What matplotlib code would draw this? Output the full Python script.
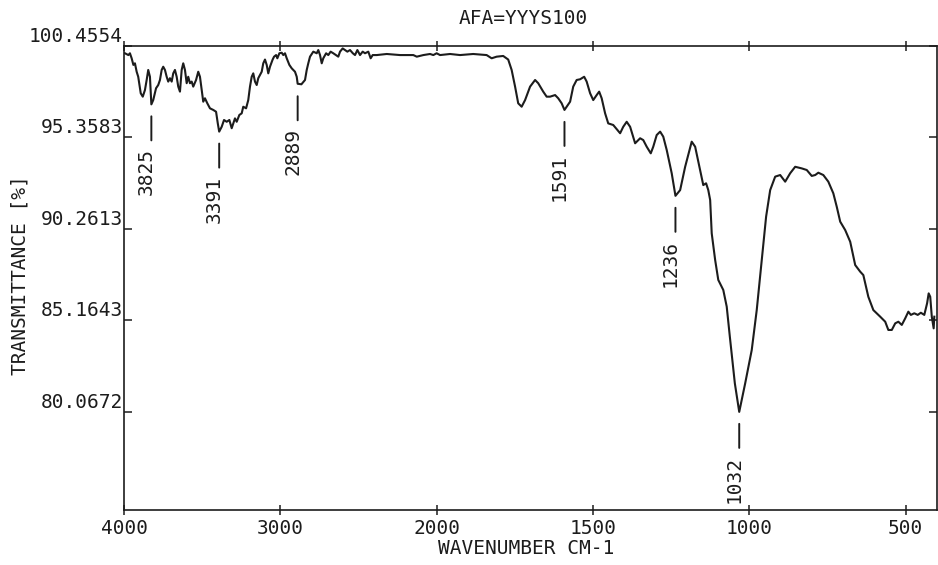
import numpy as np
import matplotlib
matplotlib.use("Agg")
import matplotlib.pyplot as plt

# IR spectrum (wavenumber in cm-1, transmittance in %)
wavenumber = [3994, 3972, 3962, 3951, 3940, 3930, 3919, 3909, 3893, 3880,
              3866, 3855, 3845, 3834, 3825, 3813, 3795, 3781, 3770, 3759,
              3749, 3738, 3727, 3717, 3706, 3695, 3685, 3674, 3663, 3653,
              3642, 3631, 3621, 3610, 3599, 3589, 3578, 3567, 3557, 3539,
              3525, 3514, 3503, 3493, 3482, 3467, 3450, 3429, 3411, 3400,
              3391, 3375, 3360, 3343, 3326, 3311, 3301, 3290, 3279, 3262,
              3247, 3237, 3219, 3205, 3194, 3183, 3173, 3162, 3151, 3141,
              3130, 3119, 3109, 3098, 3087, 3077, 3066, 3049, 3040, 3027,
              3019, 3006, 2991, 2981, 2970, 2959, 2942, 2927, 2906, 2895,
              2889, 2865, 2842, 2831, 2821, 2810, 2789, 2767, 2757, 2746,
              2735, 2725, 2707, 2693, 2678, 2661, 2644, 2629, 2618, 2601,
              2586, 2571, 2554, 2536, 2522, 2507, 2490, 2473, 2458, 2437,
              2422, 2409, 2383, 2319, 2234, 2149, 2127, 2085, 2042, 2021,
              2000, 1989, 1957, 1925, 1883, 1840, 1824, 1808, 1787, 1771,
              1760, 1749, 1739, 1728, 1717, 1701, 1685, 1675, 1659, 1648,
              1637, 1621, 1611, 1600, 1591, 1573, 1563, 1552, 1541, 1528,
              1520, 1509, 1499, 1488, 1480, 1472, 1461, 1451, 1435, 1413,
              1403, 1392, 1381, 1365, 1349, 1339, 1328, 1315, 1307, 1296,
              1285, 1275, 1264, 1248, 1236, 1221, 1205, 1184, 1173, 1157,
              1147, 1138, 1131, 1125, 1120, 1109, 1099, 1083, 1072, 1062,
              1046, 1032, 1013, 992, 976, 960, 946, 933, 917, 901,
              885, 869, 853, 832, 816, 800, 789, 779, 763, 747,
              731, 720, 709, 693, 677, 661, 645, 635, 619, 603,
              581, 565, 555, 544, 533, 523, 512, 501, 491, 483,
              472, 461, 451, 440, 431, 426, 421, 416, 410, 408]
transmittance = [100.05, 99.95, 100.05, 99.77, 99.40, 99.49, 99.02, 98.74, 97.82, 97.63,
                 98.00, 98.56, 99.12, 98.74, 97.20, 97.44, 98.10, 98.28, 98.56, 99.12,
                 99.30, 99.12, 98.74, 98.47, 98.66, 98.47, 98.93, 99.12, 98.74, 98.19,
                 97.91, 99.12, 99.49, 99.12, 98.38, 98.74, 98.38, 98.47, 98.19, 98.56,
                 99.02, 98.74, 98.00, 97.35, 97.54, 97.26, 96.98, 96.89, 96.79, 96.14,
                 95.68, 95.95, 96.33, 96.23, 96.33, 95.87, 96.14, 96.42, 96.23, 96.61,
                 96.70, 97.07, 96.98, 97.44, 98.19, 98.74, 98.93, 98.47, 98.28, 98.66,
                 98.84, 99.02, 99.49, 99.70, 99.40, 98.93, 99.30, 99.70, 99.86, 99.95,
                 99.77, 100.05, 100.08, 99.95, 100.05, 99.77, 99.40, 99.21, 99.02, 98.74,
                 98.35, 98.32, 98.56, 99.12, 99.49, 99.86, 100.14, 100.05, 100.23, 99.95,
                 99.49, 99.77, 100.05, 99.95, 100.14, 100.05, 99.95, 99.86, 100.14, 100.32,
                 100.23, 100.14, 100.23, 100.05, 99.95, 100.23, 99.95, 100.14, 100.05, 100.14,
                 99.77, 99.95, 99.95, 100.01, 99.95, 99.95, 99.86, 99.95, 100.01, 99.95,
                 100.05, 99.95, 100.01, 99.95, 100.01, 99.95, 99.77, 99.86, 99.90, 99.70,
                 99.12, 98.19, 97.26, 97.07, 97.44, 98.19, 98.56, 98.38, 97.91, 97.63,
                 97.63, 97.72, 97.54, 97.26, 96.89, 97.35, 98.19, 98.56, 98.60, 98.74,
                 98.47, 97.82, 97.44, 97.72, 97.91, 97.54, 96.70, 96.14, 96.05, 95.59,
                 95.95, 96.23, 95.95, 95.03, 95.31, 95.21, 94.84, 94.47, 94.84, 95.49,
                 95.68, 95.40, 94.66, 93.36, 92.10, 92.42, 93.72, 95.12, 94.84, 93.54,
                 92.70, 92.80, 92.42, 91.87, 90.01, 88.52, 87.41, 86.85, 85.92, 84.24,
                 81.64, 80.05, 81.64, 83.50, 85.73, 88.52, 90.94, 92.42, 93.17, 93.26,
                 92.89, 93.36, 93.72, 93.63, 93.54, 93.21, 93.26, 93.39, 93.26, 92.89,
                 92.24, 91.49, 90.66, 90.19, 89.54, 88.24, 87.87, 87.68, 86.47, 85.73,
                 85.36, 85.08, 84.62, 84.62, 84.99, 85.08, 84.90, 85.27, 85.64, 85.46,
                 85.55, 85.46, 85.58, 85.46, 86.11, 86.66, 86.47, 85.36, 84.71, 85.36]

# labelled absorption bands and the transmittance at their minima
peak_labels = ["3825", "3391", "2889", "1591", "1236", "1032"]
peak_wn = [3825, 3391, 2889, 1591, 1236, 1032]
peak_t = [97.20, 95.68, 98.32, 96.89, 92.10, 80.05]

y_ticks = [100.4554, 95.3583, 90.2613, 85.1643, 80.0672]
x_ticks = [4000, 3000, 2000, 1500, 1000, 500]


# instrument changes the x scale at 2000 cm-1 (1000/div above, 500/div below)
def fwd(w):
    w = np.asarray(w, dtype=float)
    return np.where(w >= 2000, (w - 2000) / 1000, (w - 2000) / 500)


def inv(t):
    t = np.asarray(t, dtype=float)
    return np.where(t >= 0, 2000 + 1000 * t, 2000 + 500 * t)


plt.rcParams['font.family'] = ['DejaVu Sans Mono']
ink = '#1c1c1c'
fs = 14

fig = plt.figure(figsize=(9.38, 5.65), dpi=100)
ax = fig.add_axes([124 / 938, 1 - 510 / 565, (936.8 - 124) / 938, (510 - 46) / 565])
ax.set_xscale('function', functions=(fwd, inv))
ax.plot(wavenumber, transmittance, color=ink, lw=1.5)
ax.set_xlim(4000, 400)
ax.set_ylim(74.58, 100.4554)

for s in ax.spines.values():
    s.set_linewidth(1.2)
    s.set_color(ink)

ax.set_xticks(x_ticks)
ax.set_xticklabels([str(v) for v in x_ticks])
ax.set_yticks(y_ticks)
ax.set_yticklabels([f"{v:.4f}" for v in y_ticks])
ax.tick_params(axis='x', direction='inout', length=7, width=1.1, pad=3,
               labelsize=fs, colors=ink, top=True)
ax.tick_params(axis='y', direction='in', length=6, width=1.1, pad=1,
               labelsize=fs, colors=ink, right=True)
for lab in ax.get_yticklabels():
    lab.set_va('bottom')

# peak markers: short bar under each minimum, number written below it
for lab, w, t in zip(peak_labels, peak_wn, peak_t):
    ax.annotate('', xy=(w, t), xycoords='data', xytext=(0, -36),
                textcoords='offset pixels',
                arrowprops=dict(arrowstyle='-', color=ink, lw=1.4,
                                shrinkA=0, shrinkB=8.6))
    ax.annotate(lab, xy=(w, t), xycoords='data', xytext=(-5, -44),
                textcoords='offset pixels', rotation=90, ha='center',
                va='top', fontsize=fs, color=ink)

fig.text(523 / 938, 1 - 18 / 565, 'AFA=YYYS100', ha='center', va='center',
         fontsize=fs, color=ink)
fig.text(526 / 938, 1 - 548 / 565, 'WAVENUMBER CM-1', ha='center', va='center',
         fontsize=fs, color=ink)
fig.text(20 / 938, 1 - 275 / 565, 'TRANSMITTANCE [%]', ha='center', va='center',
         rotation=90, fontsize=fs, color=ink)

fig.savefig('out.png', dpi=100)
